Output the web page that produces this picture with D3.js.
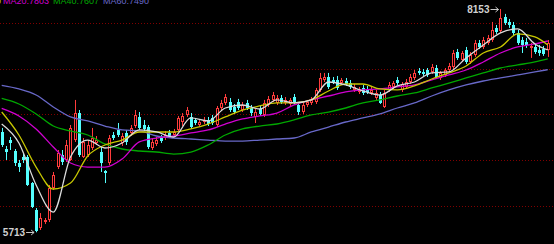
<!DOCTYPE html>
<html>
<head>
<meta charset="utf-8">
<script src="https://cdn.jsdelivr.net/npm/d3@7"></script>
<style>
  html, body { margin: 0; padding: 0; background: #000; overflow: hidden; }
  svg { display: block; }
</style>
</head>
<body>
<div id="chart"></div>
<script>
// candles
const opens = [
  6809, 6623, 6721, 6601, 6470, 6536, 6536, 6251, 5956, 5760,
  5825, 5847, 6197, 6426, 6557, 6503, 6503, 6721, 7016, 6536,
  6557, 6634, 6689, 6590, 6383, 6470, 6776, 6831, 6689, 6798,
  6798, 6874, 6973, 6885, 6863, 6634, 6678, 6743, 6743, 6798,
  6776, 6831, 6918, 6995, 6973, 6940, 6885, 6918, 6940, 6962,
  6885, 7071, 7126, 7137, 7082, 7137, 7049, 7126, 7071, 6973,
  7060, 6995, 7104, 7159, 7126, 7180, 7126, 7115, 7191, 7104,
  7027, 7104, 7126, 7137, 7268, 7377, 7410, 7377, 7377, 7344,
  7366, 7344, 7268, 7246, 7290, 7279, 7235, 7180, 7213, 7082,
  7268, 7301, 7377, 7268, 7301, 7355, 7399, 7476, 7465, 7486,
  7465, 7508, 7399, 7432, 7486, 7519, 7683, 7596, 7705, 7574,
  7650, 7782, 7738, 7782, 7814, 7946, 7913, 8066, 8011, 7978,
  7891, 7814, 7793, 7727, 7738, 7705, 7716, 7705
];
const highs = [
  6853, 6656, 6754, 6623, 6503, 6568, 6557, 6262, 5978, 5923,
  5869, 6230, 6372, 6612, 6612, 6721, 6885, 7159, 7049, 6743,
  6721, 6853, 6765, 6645, 6393, 6776, 6809, 6907, 6798, 6831,
  6885, 7049, 7027, 6940, 6885, 6732, 6754, 6776, 6820, 6831,
  6842, 6984, 7016, 7082, 7016, 6962, 6940, 6973, 6973, 6995,
  7093, 7159, 7224, 7180, 7115, 7170, 7137, 7159, 7104, 7060,
  7093, 7159, 7202, 7246, 7213, 7213, 7191, 7180, 7224, 7137,
  7137, 7159, 7191, 7290, 7454, 7454, 7454, 7410, 7421, 7399,
  7399, 7377, 7333, 7301, 7323, 7312, 7312, 7268, 7246, 7268,
  7355, 7366, 7410, 7355, 7388, 7443, 7486, 7508, 7497, 7508,
  7552, 7541, 7476, 7508, 7563, 7705, 7716, 7694, 7738, 7683,
  7814, 7814, 7847, 7869, 8011, 7978, 8153, 8099, 8044, 8011,
  7924, 7847, 7836, 7782, 7771, 7760, 7749, 7814
];
const lows = [
  6645, 6503, 6612, 6437, 6372, 6470, 6219, 5978, 5713, 5738,
  5803, 5825, 6175, 6404, 6448, 6481, 6492, 6700, 6536, 6525,
  6536, 6612, 6667, 6372, 6251, 6448, 6721, 6754, 6656, 6667,
  6765, 6853, 6831, 6820, 6623, 6612, 6656, 6689, 6721, 6743,
  6754, 6809, 6874, 6973, 6842, 6885, 6863, 6896, 6874, 6885,
  6863, 7049, 7104, 7027, 7006, 7049, 7027, 7049, 6984, 6907,
  6984, 6973, 7082, 7137, 7104, 7115, 7104, 7093, 7115, 6995,
  7006, 7082, 7104, 7115, 7246, 7355, 7279, 7333, 7268, 7323,
  7312, 7279, 7246, 7224, 7213, 7224, 7213, 7159, 7115, 7071,
  7246, 7279, 7323, 7246, 7279, 7333, 7377, 7432, 7421, 7410,
  7443, 7388, 7377, 7410, 7465, 7497, 7596, 7574, 7552, 7552,
  7629, 7716, 7716, 7760, 7793, 7880, 7891, 7978, 7946, 7869,
  7760, 7672, 7727, 7618, 7661, 7640, 7640, 7629
];
const closes = [
  6667, 6590, 6689, 6470, 6426, 6503, 6230, 5989, 5725, 5869,
  5847, 6197, 6339, 6579, 6481, 6667, 6853, 7016, 6557, 6700,
  6667, 6743, 6721, 6470, 6361, 6743, 6743, 6776, 6765, 6700,
  6853, 6995, 6853, 6842, 6645, 6700, 6721, 6710, 6776, 6765,
  6809, 6962, 6984, 7049, 6863, 6907, 6918, 6940, 6896, 6907,
  7071, 7126, 7191, 7049, 7027, 7071, 7104, 7071, 7016, 7027,
  7006, 7126, 7170, 7213, 7180, 7137, 7159, 7159, 7137, 7027,
  7104, 7137, 7159, 7268, 7399, 7410, 7301, 7355, 7290, 7377,
  7333, 7301, 7301, 7279, 7235, 7246, 7268, 7235, 7126, 7235,
  7323, 7344, 7344, 7333, 7355, 7410, 7454, 7454, 7443, 7432,
  7519, 7410, 7454, 7486, 7530, 7672, 7618, 7672, 7574, 7650,
  7782, 7738, 7814, 7836, 7924, 7902, 8055, 8000, 7978, 7891,
  7782, 7760, 7760, 7749, 7683, 7672, 7661, 7782
];

// moving averages, read at every 4th candle
const maIdx = [0, 4, 8, 12, 16, 20, 24, 28, 32, 36, 40, 44, 48, 52, 56, 60, 64,
  68, 72, 76, 80, 84, 88, 92, 96, 100, 104, 108, 112, 116, 120, 124, 127];
const ma5 = [6896, 6689, 6230, 5934, 6536, 6721, 6634, 6689, 6831, 6809, 6754, 6962, 6929,
  7071, 7104, 7060, 7159, 7126, 7159, 7355, 7323, 7257, 7213, 7312, 7355, 7454, 7465,
  7618, 7760, 7891, 7935, 7771, 7705];
const ma10 = [7027, 6776, 6426, 6186, 6251, 6547, 6667, 6721, 6809, 6809, 6809, 6842, 6896,
  6973, 7049, 7093, 7126, 7126, 7159, 7257, 7333, 7333, 7279, 7268, 7312, 7388, 7454,
  7530, 7672, 7738, 7880, 7847, 7760];
const ma20 = [7066, 6984, 6842, 6645, 6470, 6426, 6426, 6514, 6700, 6743, 6765, 6798, 6831,
  6896, 6951, 6984, 7016, 7104, 7159, 7202, 7246, 7268, 7279, 7301, 7323, 7377, 7432,
  7486, 7574, 7672, 7738, 7771, 7803];
const ma40 = [7175, 7115, 7006, 6874, 6820, 6776, 6678, 6623, 6601, 6590, 6568, 6590, 6667,
  6776, 6842, 6874, 6896, 6940, 6995, 7027, 7071, 7126, 7159, 7202, 7235, 7290, 7344,
  7399, 7454, 7508, 7541, 7574, 7607];
const ma60 = [7318, 7279, 7213, 7082, 6973, 6929, 6874, 6831, 6820, 6765, 6743, 6732, 6721,
  6710, 6710, 6721, 6732, 6743, 6809, 6863, 6918, 6962, 7006, 7071, 7126, 7202, 7268,
  7323, 7366, 7399, 7432, 7465, 7490];

const gridPrices = [6000, 6500, 7000, 7500, 8000];

const W = 554, H = 244;
const UP = "#ff3c3c", DOWN = "#54ffff";

const svg = d3.select("#chart").append("svg")
  .attr("width", W).attr("height", H)
  .style("background", "#000");

const n = closes.length;
const x = d3.scalePoint().domain(d3.range(n)).range([1.7, 547.8]);
const y = d3.scaleLinear().domain([5585, 8251]).range([H, 0]);

// dotted grid
svg.append("g").selectAll("line")
  .data(gridPrices).enter()
  .append("line")
    .attr("x1", 0).attr("x2", W)
    .attr("y1", d => Math.round(y(d)) + 0.5)
    .attr("y2", d => Math.round(y(d)) + 0.5)
    .attr("stroke", "#800000")
    .attr("stroke-dasharray", "1,2");

const candles = d3.range(n).map(i => ({
  i, o: opens[i], h: highs[i], l: lows[i], c: closes[i], up: closes[i] >= opens[i]
}));

const cg = svg.append("g");

// wicks
cg.selectAll("line.wick")
  .data(candles).enter()
  .append("line")
    .attr("class", "wick")
    .attr("x1", d => Math.round(x(d.i)) + 0.5)
    .attr("x2", d => Math.round(x(d.i)) + 0.5)
    .attr("y1", d => y(Math.max(d.h, d.o, d.c)))
    .attr("y2", d => y(Math.min(d.l, d.o, d.c)))
    .attr("stroke", d => d.up ? UP : DOWN)
    .attr("stroke-width", 1);

// bodies: red hollow, cyan filled
cg.selectAll("rect.body")
  .data(candles).enter()
  .append("rect")
    .attr("class", "body")
    .attr("x", d => d.up ? Math.round(x(d.i)) - 1 + 0.5 : Math.round(x(d.i)) - 1)
    .attr("y", d => {
      const t = y(Math.max(d.o, d.c));
      return d.up ? Math.round(t) + 0.5 : Math.round(t);
    })
    .attr("width", d => d.up ? 2 : 3)
    .attr("height", d => {
      const hgt = Math.max(1, Math.round(y(Math.min(d.o, d.c)) - y(Math.max(d.o, d.c))));
      return d.up ? Math.max(1, hgt - 1) : hgt;
    })
    .attr("fill", d => d.up ? "#000" : DOWN)
    .attr("stroke", d => d.up ? UP : "none")
    .attr("stroke-width", 1);

// moving average lines
const maSeries = [
  { name: "MA60", vals: ma60, color: "#6868c8" },
  { name: "MA40", vals: ma40, color: "#00a800" },
  { name: "MA20", vals: ma20, color: "#d000d0" },
  { name: "MA10", vals: ma10, color: "#c8c800" },
  { name: "MA5", vals: ma5, color: "#dcdcdc" }
];

const line = d3.line()
  .x(d => x(d[0]))
  .y(d => y(d[1]))
  .curve(d3.curveMonotoneX);

svg.append("g").selectAll("path")
  .data(maSeries).enter()
  .append("path")
    .attr("d", s => line(maIdx.map((k, j) => [k, s.vals[j]])))
    .attr("fill", "none")
    .attr("stroke", d => d.color)
    .attr("stroke-width", 1.3);

// legend, cut off at the top edge as in the source
const legend = [
  { text: "MA10:" + ma10[ma10.length - 1], color: "#c8c800", x: 1, anchor: "end" },
  { text: "MA20:" + ma20[ma20.length - 1], color: "#d000d0", x: 3, anchor: "start" },
  { text: "MA40:" + ma40[ma40.length - 1], color: "#00a800", x: 53, anchor: "start" },
  { text: "MA60:" + ma60[ma60.length - 1], color: "#6868c8", x: 103, anchor: "start" }
];
svg.append("g").selectAll("text")
  .data(legend).enter()
  .append("text")
    .attr("x", d => d.x).attr("y", 4)
    .attr("text-anchor", d => d.anchor)
    .attr("fill", d => d.color)
    .style("font", "9px 'Liberation Sans', Arial, sans-serif")
    .text(d => d.text);

// high / low markers
const hiI = d3.maxIndex(highs), loI = d3.minIndex(lows);
const marks = [
  { i: hiI, v: highs[hiI] },
  { i: loI, v: lows[loI] }
];
const mg = svg.append("g");
marks.forEach(m => {
  const cx = x(m.i), cy = Math.round(y(m.v));
  const x2 = cx - 2, x1 = cx - 10;
  mg.append("line")
    .attr("x1", x1).attr("x2", x2)
    .attr("y1", cy + 0.5).attr("y2", cy + 0.5)
    .attr("stroke", "#c8c8c8");
  mg.append("path")
    .attr("d", `M${x2 - 3},${cy - 2} L${x2},${cy + 0.5} L${x2 - 3},${cy + 3}`)
    .attr("fill", "none")
    .attr("stroke", "#c8c8c8");
  mg.append("text")
    .attr("x", x1 - 1).attr("y", cy + 4)
    .attr("text-anchor", "end")
    .attr("fill", "#d0d0d0")
    .style("font", "bold 10px 'Liberation Sans', Arial, sans-serif")
    .text(m.v);
});
</script>
</body>
</html>
